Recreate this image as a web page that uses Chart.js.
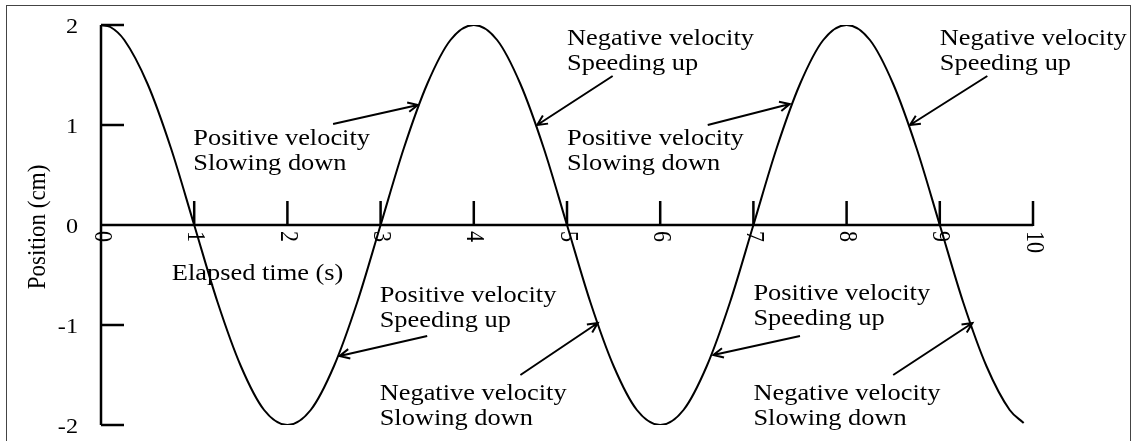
<!DOCTYPE html>
<html>
<head>
<meta charset="utf-8">
<script src="https://cdn.jsdelivr.net/npm/chart.js@4"></script>
<style>
  body { margin: 0; background: #fff; }
  #wrap { width: 1136px; height: 441px; position: relative; }
</style>
</head>
<body>
<div id="wrap"><canvas id="posChart"></canvas></div>
<script>
// elapsed time (s) and position (cm)
const times = [0, 0.1, 0.25, 0.5, 0.75, 1, 1.25, 1.5, 1.75, 2, 2.25, 2.5, 2.75, 3, 3.25, 3.5, 3.75,
               4, 4.25, 4.5, 4.75, 5, 5.25, 5.5, 5.75, 6, 6.25, 6.5, 6.75, 7, 7.25, 7.5, 7.75,
               8, 8.25, 8.5, 8.75, 9, 9.25, 9.5, 9.75, 9.9];
const positions = [2, 1.98, 1.85, 1.41, 0.77, 0, -0.77, -1.41, -1.85, -2, -1.85, -1.41, -0.77, 0, 0.77, 1.41, 1.85,
                   2, 1.85, 1.41, 0.77, 0, -0.77, -1.41, -1.85, -2, -1.85, -1.41, -0.77, 0, 0.77, 1.41, 1.85,
                   2, 1.85, 1.41, 0.77, 0, -0.77, -1.41, -1.85, -1.98];

const xTicks = [0, 1, 2, 3, 4, 5, 6, 7, 8, 9, 10];
const yTicks = [-2, -1, 0, 1, 2];

// callouts: text anchor (time, position) and arrow tail -> tip
const noteText = [
    ['Positive velocity', 'Slowing down'],
    ['Negative velocity', 'Speeding up'],
    ['Positive velocity', 'Slowing down'],
    ['Negative velocity', 'Speeding up'],
    ['Positive velocity', 'Speeding up'],
    ['Negative velocity', 'Slowing down'],
    ['Positive velocity', 'Speeding up'],
    ['Negative velocity', 'Slowing down']
];
const noteAt = [[0.99, 0.80], [5.0, 1.80], [5.0, 0.80], [9.0, 1.80], [2.99, -0.77], [2.99, -1.75], [7.0, -0.75], [7.0, -1.75]];
const arrowFrom = [[2.49, 1.01], [5.49, 1.49], [6.51, 1.00], [9.51, 1.49], [3.50, -1.11], [4.50, -1.50], [7.50, -1.11], [8.50, -1.50]];
const arrowTo = [[3.40, 1.20], [4.68, 1.00], [7.39, 1.21], [8.68, 1.00], [2.56, -1.31], [5.33, -0.98], [6.57, -1.30], [9.35, -0.98]];

const FONT = '"Liberation Serif", "Times New Roman", serif';
const STRETCH = 1.1;

function wideText(ctx, txt, x, y) {
    ctx.save();
    ctx.translate(x, y);
    ctx.scale(STRETCH, 1);
    ctx.fillText(txt, 0, 0);
    ctx.restore();
}

const axesPlugin = {
    id: 'axesPlugin',
    beforeDatasetsDraw(chart) {
        const ctx = chart.ctx;
        const xs = chart.scales.x, ys = chart.scales.y;
        const x0 = xs.getPixelForValue(0), y0 = ys.getPixelForValue(0);

        ctx.save();
        // frame round the figure
        ctx.strokeStyle = '#444';
        ctx.lineWidth = 1;
        ctx.strokeRect(6.5, 5.5, 1124, 450);

        ctx.strokeStyle = '#000';
        ctx.lineWidth = 2.5;
        ctx.lineCap = 'butt';
        ctx.beginPath();
        ctx.moveTo(x0, ys.getPixelForValue(2));
        ctx.lineTo(x0, ys.getPixelForValue(-2));
        ctx.moveTo(x0, y0);
        ctx.lineTo(xs.getPixelForValue(10), y0);
        yTicks.forEach(v => {
            const py = ys.getPixelForValue(v);
            ctx.moveTo(x0, py);
            ctx.lineTo(x0 + 23, py);
        });
        xTicks.forEach(v => {
            const px = xs.getPixelForValue(v);
            ctx.moveTo(px, y0 + 1);
            ctx.lineTo(px, y0 - 24);
        });
        ctx.stroke();

        ctx.fillStyle = '#000';
        ctx.font = '22px ' + FONT;
        ctx.textAlign = 'right';
        ctx.textBaseline = 'middle';
        yTicks.forEach(v => {
            const py = ys.getPixelForValue(v);
            ctx.save();
            ctx.translate(x0 - 23, py + 2);
            ctx.scale(STRETCH, 1);
            ctx.fillText(String(v), 0, 0);
            ctx.restore();
        });

        // x tick labels, turned a quarter clockwise
        ctx.textAlign = 'left';
        xTicks.forEach(v => {
            const px = xs.getPixelForValue(v);
            ctx.save();
            ctx.translate(px, y0 + 6);
            ctx.rotate(Math.PI / 2);
            ctx.scale(1, STRETCH);
            ctx.fillText(String(v), 0, 0);
            ctx.restore();
        });

        // y axis title
        ctx.save();
        ctx.translate(38, ys.getPixelForValue(0) + 2);
        ctx.rotate(-Math.PI / 2);
        ctx.scale(1, STRETCH);
        ctx.textAlign = 'center';
        ctx.font = '23px ' + FONT;
        ctx.fillText('Position (cm)', 0, 0);
        ctx.restore();

        // x axis title
        ctx.font = '24px ' + FONT;
        ctx.textBaseline = 'alphabetic';
        wideText(ctx, 'Elapsed time (s)', xs.getPixelForValue(0.76), ys.getPixelForValue(-0.55));
        ctx.restore();
    },
    afterDraw(chart) {
        const ctx = chart.ctx;
        const xs = chart.scales.x, ys = chart.scales.y;
        ctx.save();
        ctx.fillStyle = '#000';
        ctx.strokeStyle = '#000';
        ctx.font = '24px ' + FONT;
        ctx.textAlign = 'left';
        ctx.textBaseline = 'alphabetic';
        noteText.forEach((lines, i) => {
            const px = xs.getPixelForValue(noteAt[i][0]);
            const py = ys.getPixelForValue(noteAt[i][1]);
            lines.forEach((t, j) => wideText(ctx, t, px, py + j * 25));
        });

        ctx.lineWidth = 2;
        arrowFrom.forEach((a, i) => {
            const x1 = xs.getPixelForValue(a[0]), y1 = ys.getPixelForValue(a[1]);
            const x2 = xs.getPixelForValue(arrowTo[i][0]), y2 = ys.getPixelForValue(arrowTo[i][1]);
            const ang = Math.atan2(y2 - y1, x2 - x1);
            const head = 11;
            ctx.beginPath();
            ctx.moveTo(x1, y1);
            ctx.lineTo(x2, y2);
            ctx.moveTo(x2 - head * Math.cos(ang - 0.45), y2 - head * Math.sin(ang - 0.45));
            ctx.lineTo(x2, y2);
            ctx.lineTo(x2 - head * Math.cos(ang + 0.45), y2 - head * Math.sin(ang + 0.45));
            ctx.stroke();
        });
        ctx.restore();
    }
};

const ctx = document.getElementById('posChart').getContext('2d');

let posChart = new Chart(ctx, {
    type: 'line',
    data: {
        datasets: [{
            data: times.map((t, i) => ({ x: t, y: positions[i] })),
            borderColor: '#000',
            borderWidth: 2,
            pointRadius: 0,
            fill: false,
            cubicInterpolationMode: 'monotone'
        }]
    },
    options: {
        responsive: true,
        maintainAspectRatio: false,
        animation: false,
        layout: { padding: { left: 101, right: 103, top: 25, bottom: 16 } },
        scales: {
            x: { type: 'linear', min: 0, max: 10, display: false },
            y: { type: 'linear', min: -2, max: 2, display: false }
        },
        plugins: {
            legend: { display: false },
            tooltip: { enabled: false }
        }
    },
    plugins: [axesPlugin]
});
</script>
</body>
</html>
